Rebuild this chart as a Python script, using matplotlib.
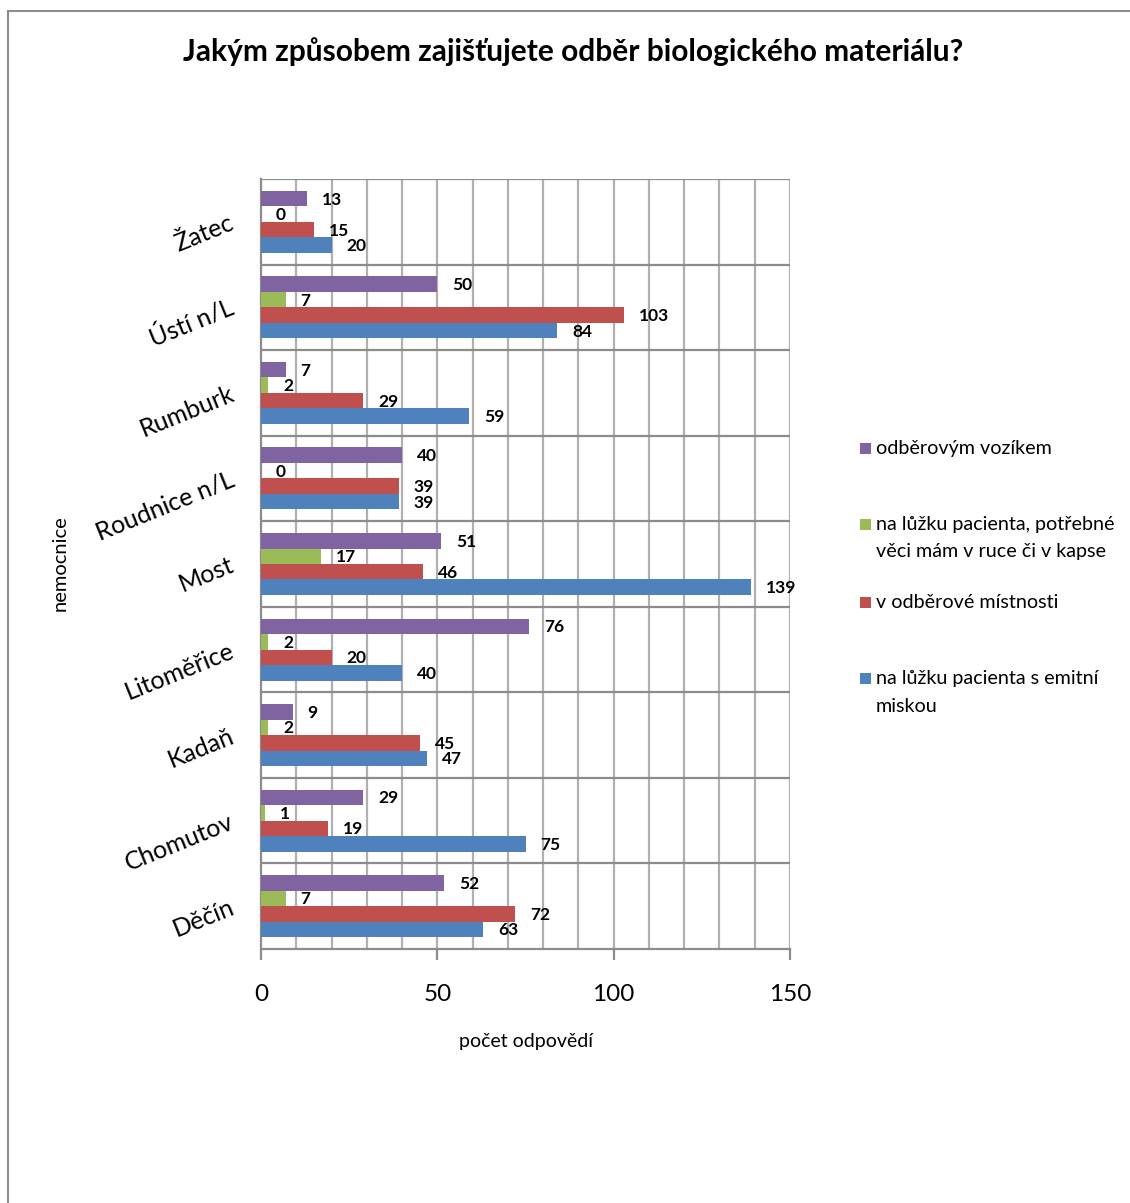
import matplotlib
matplotlib.use("Agg")
import matplotlib.pyplot as plt
from matplotlib.patches import Rectangle
import numpy as np

plt.rcParams['font.family'] = ['Lato', 'DejaVu Sans']

# Hospitals, bottom to top
hospitals = ["Děčín", "Chomutov", "Kadaň", "Litoměřice", "Most",
             "Roudnice n/L", "Rumburk", "Ústí n/L", "Žatec"]

# Answer counts per hospital, one list per series
emitni_miska = [63, 75, 47, 40, 139, 39, 59, 84, 20]
odberova_mistnost = [72, 19, 45, 20, 46, 39, 29, 103, 15]
veci_v_kapse = [7, 1, 2, 2, 17, 0, 2, 7, 0]
odberovy_vozik = [52, 29, 9, 76, 51, 40, 7, 50, 13]

series_labels = ["na lůžku pacienta s emitní\nmiskou",
                 "v odběrové místnosti",
                 "na lůžku pacienta, potřebné\nvěci mám v ruce či v kapse",
                 "odběrovým vozíkem"]
series_values = [emitni_miska, odberova_mistnost, veci_v_kapse, odberovy_vozik]
series_colors = ["#4F81BD", "#C0504D", "#9BBB59", "#8064A2"]

x_ticks = [0, 50, 100, 150]

W, H = 1130, 1203
fig = plt.figure(figsize=(W / 100, H / 100), dpi=100)

# Outer chart frame
fig.patches.append(Rectangle((8 / W, -0.01), 1.2, 1 - 11 / H + 0.01,
                             transform=fig.transFigure, fill=False,
                             edgecolor="#8c8c8c", linewidth=1.5))

ax = fig.add_axes([261 / W, 1 - 949 / H, (790 - 261) / W, (949 - 179) / H])

y = np.arange(len(hospitals))
h = 0.181
offsets = [-1.5 * h, -0.5 * h, 0.5 * h, 1.5 * h]

for vals, col, off in zip(series_values, series_colors, offsets):
    ax.barh(y + off, vals, height=h, color=col, zorder=3)
    for yi, v in zip(y, vals):
        ax.annotate(str(v), (v, yi + off), xytext=(15, -1),
                    textcoords="offset pixels",
                    ha="left", va="center", fontsize=12.5, fontweight="bold",
                    color="black", zorder=4)

ax.set_xlim(0, 150)
ax.set_ylim(-0.5, len(hospitals) - 0.5)

# Gridlines: every 10 answers vertically, category boundaries horizontally
for gx in range(10, 151, 10):
    ax.axvline(gx, color="#b0b0b0", linewidth=1.6, zorder=1)
for gy in np.arange(0.5, len(hospitals), 1.0):
    ax.axhline(gy, color="#8c8c8c", linewidth=1.6, zorder=1)

for s in ax.spines.values():
    s.set_color("#8c8c8c")
    s.set_linewidth(1.6)
ax.spines["right"].set_visible(False)
ax.spines["top"].set_visible(False)

ax.set_xticks(x_ticks)
ax.set_xticklabels([str(t) for t in x_ticks], fontsize=17.5)
ax.tick_params(axis="x", direction="out", length=8, width=1.6,
               color="#8c8c8c", pad=17)
ax.set_yticks(y)
ax.set_yticklabels([])
ax.tick_params(axis="y", length=0)

for yi, name in zip(y, hospitals):
    ax.annotate(name, (0, yi), xytext=(-28, 0), textcoords="offset pixels",
                ha="right", va="center", rotation=22, rotation_mode="anchor",
                fontsize=18)

fig.text(526 / W, 1 - 1042 / H, "počet odpovědí", ha="center", va="center",
         fontsize=14)
fig.text(60 / W, 1 - 563 / H, "nemocnice", ha="center", va="center",
         rotation=90, fontsize=14.5)

fig.text(573 / W, 1 - 52 / H,
         "Jakým způsobem zajišťujete odběr biologického materiálu?",
         ha="center", va="center", fontsize=21.5, fontweight="bold")

# Legend, drawn top to bottom: vozík, kapsa, místnost, miska
legend_rows = [(448, 3), (524, 2), (602, 1), (678, 0)]
for ypix, idx in legend_rows:
    fig.patches.append(Rectangle((860 / W, 1 - (ypix + 6) / H), 11 / W, 11 / H,
                                 transform=fig.transFigure,
                                 facecolor=series_colors[idx], edgecolor="none"))
    fig.text(876 / W, 1 - (ypix - 8) / H, series_labels[idx], ha="left",
             va="top", fontsize=14.2, linespacing=1.75)

fig.savefig("out.png", dpi=100, facecolor="white")
